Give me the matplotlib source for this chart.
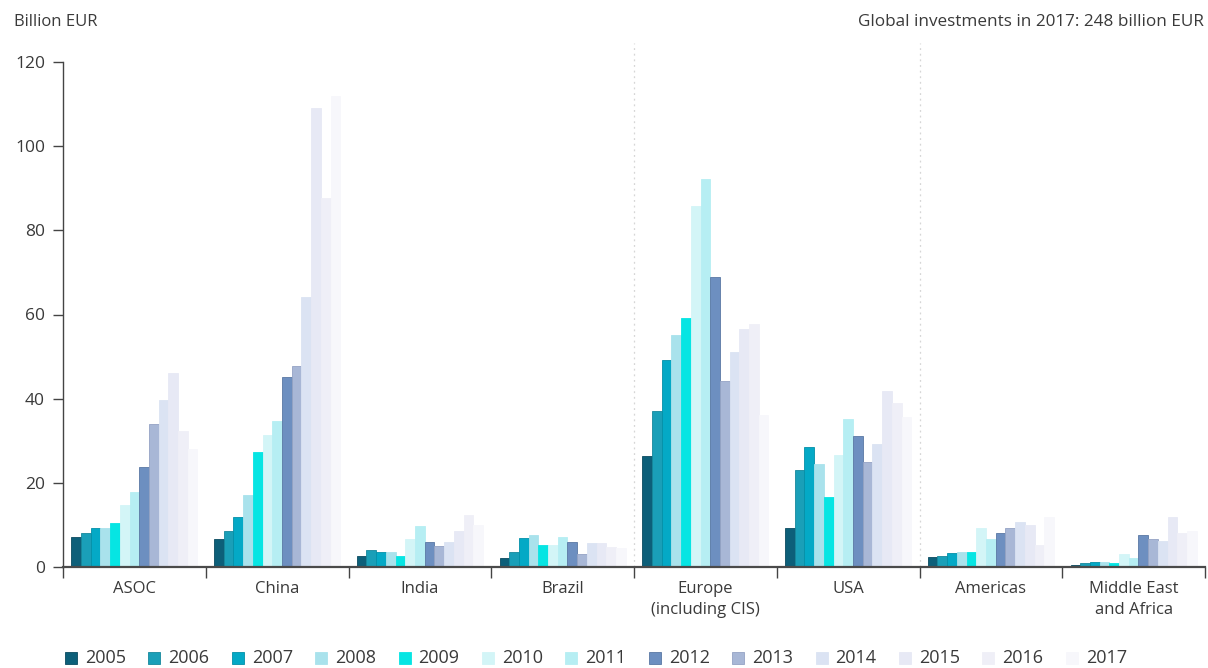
import matplotlib
matplotlib.use("Agg")
import matplotlib.pyplot as plt
from matplotlib.patches import Rectangle
import numpy as np

regions = ["ASOC", "China", "India", "Brazil", "Europe\n(including CIS)",
           "USA", "Americas", "Middle East\nand Africa"]
years = ["2005", "2006", "2007", "2008", "2009", "2010", "2011",
         "2012", "2013", "2014", "2015", "2016", "2017"]

# Investments in billion EUR, one list per region, ordered 2005..2017
asoc     = [7.2, 8.0, 9.3, 9.3, 10.4, 14.7, 17.8, 23.8, 33.9, 39.8, 46.0, 32.2, 28.0]
china    = [6.6, 8.6, 11.8, 17.1, 27.4, 31.4, 34.7, 45.1, 47.8, 64.2, 109.0, 87.6, 112.0]
india    = [2.5, 4.0, 3.6, 3.6, 2.6, 6.6, 9.7, 6.0, 5.0, 6.0, 8.6, 12.4, 10.0]
brazil   = [2.1, 3.6, 7.0, 7.6, 5.2, 5.2, 7.1, 6.0, 3.0, 5.8, 5.8, 4.8, 4.4]
europe   = [26.4, 37.1, 49.2, 55.1, 59.1, 85.8, 92.1, 69.0, 44.3, 51.0, 56.6, 57.7, 36.1]
usa      = [9.3, 23.1, 28.4, 24.5, 16.7, 26.5, 35.2, 31.2, 25.0, 29.2, 41.8, 38.9, 35.7]
americas = [2.3, 2.6, 3.4, 3.6, 3.6, 9.2, 6.6, 8.0, 9.3, 10.6, 10.0, 5.2, 11.8]
mea      = [0.5, 0.9, 1.3, 1.3, 1.0, 3.1, 2.1, 7.6, 6.6, 6.2, 11.8, 8.0, 8.6]

y_ticks = [0, 20, 40, 60, 80, 100, 120]

face_colors = ["#0d5f79", "#1a9fb8", "#04a9c6", "#a9e2ec", "#06e5e3",
               "#d3f5f7", "#b6eef3", "#6d8fc0", "#a8b7d6", "#dbe3f3",
               "#e7e9f5", "#efeff7", "#f7f7fb"]
edge_colors = ["#0a4a60", "#16889c", "#0390a8", "#a9e2ec", "#06e5e3",
               "#d3f5f7", "#b6eef3", "#5a78a4", "#94a3c4", "#dbe3f3",
               "#e7e9f5", "#efeff7", "#f7f7fb"]

text_color = "#3a3a3a"
plt.rcParams["font.family"] = ["Open Sans", "DejaVu Sans"]

data = np.array([asoc, china, india, brazil, europe, usa, americas, mea])

W, H = 1208, 668
fig = plt.figure(figsize=(W / 100, H / 100), dpi=100)
ax = fig.add_axes([63 / W, 1 - 567 / H, (1205 - 63) / W, (567 - 62) / H])

bar_w = 0.068
offset = 0.058
group_pos = np.arange(len(regions))
for j, yr in enumerate(years):
    ax.bar(group_pos + offset + j * bar_w, data[:, j], width=bar_w,
           align="edge", color=face_colors[j], edgecolor=edge_colors[j],
           linewidth=0.6, zorder=2)

# dotted separators between region blocks
for xs in (4, 6):
    ax.plot([xs, xs], [0, 124.5], linestyle=(0, (1.5, 3)), color="#d6d6d6",
            linewidth=0.9, clip_on=False, zorder=1)

ax.set_xlim(0, len(regions))
ax.set_ylim(0, 120)
ax.set_yticks(y_ticks)
ax.set_yticklabels([str(v) for v in y_ticks])
ax.set_xticks(np.arange(len(regions) + 1))
ax.set_xticklabels([])
ax.set_xticks(group_pos + 0.5, minor=True)
ax.set_xticklabels(regions, minor=True, fontsize=12, color=text_color,
                   linespacing=1.4)
ax.tick_params(axis="x", which="major", length=8, width=1, color="#444444",
               direction="out")
ax.tick_params(axis="x", which="minor", length=0, pad=10)
ax.tick_params(axis="y", length=7, width=1, color="#444444", pad=6,
               labelsize=12.5, labelcolor=text_color)

for side in ("top", "right"):
    ax.spines[side].set_visible(False)
ax.spines["left"].set_color("#444444")
ax.spines["left"].set_linewidth(1)
ax.spines["bottom"].set_color("#4a4a4a")
ax.spines["bottom"].set_linewidth(1.6)
ax.spines["bottom"].set_zorder(3)

fig.text(14 / W, 1 - 22 / H, "Billion EUR", fontsize=12, color=text_color,
         ha="left", va="center")
fig.text(1204 / W, 1 - 22 / H, "Global investments in 2017: 248 billion EUR",
         fontsize=12.3, color=text_color, ha="right", va="center")

# legend row along the bottom
leg_x0 = 65
leg_step = 83.4
leg_y = 658
sq = 12
for j, yr in enumerate(years):
    x = leg_x0 + j * leg_step
    fig.patches.append(Rectangle((x / W, 1 - (leg_y + sq / 2) / H), sq / W, sq / H,
                                 transform=fig.transFigure,
                                 facecolor=face_colors[j],
                                 edgecolor=edge_colors[j], linewidth=0.6))
    fig.text((x + 20) / W, 1 - leg_y / H, yr, fontsize=13, color=text_color,
             ha="left", va="center")

fig.savefig("out.png", dpi=100, facecolor="white")
